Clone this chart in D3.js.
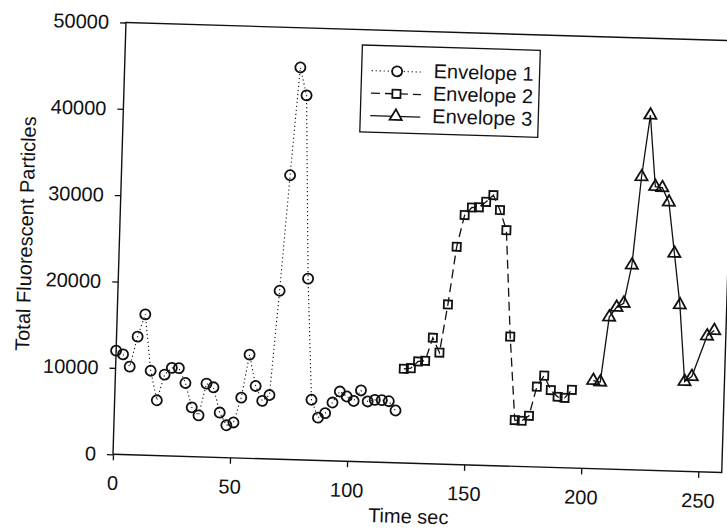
<!DOCTYPE html>
<html>
<head>
<meta charset="utf-8">
<script src="https://cdn.jsdelivr.net/npm/d3@7"></script>
<style>
  html, body { margin: 0; padding: 0; background: #fff; }
  svg { display: block; font-family: "Liberation Sans", Arial, Helvetica, sans-serif; }
</style>
</head>
<body>
<svg id="chart" width="727" height="528"></svg>
<script>
// Envelope 1: time (s) and total fluorescent particle counts
const env1Time = [0, 3, 6, 9, 12, 15, 18, 21, 24, 27, 30, 33, 36, 39, 42, 45, 48, 51, 54, 57,
                  60, 63, 66, 69, 72, 75, 78, 81, 84, 87, 90, 93, 96, 99, 102, 105, 108, 111, 114, 117, 120];
const env1Count = [12000, 11600, 10200, 13700, 16300, 9800, 6400, 9400, 10200, 10200, 8500, 5700, 4800, 8500,
                   8100, 5200, 3750, 4100, 7000, 12000, 8400, 6700, 7400, 19500, 32900, 45400, 42200, 21000,
                   7000, 4950, 5500, 6750, 8050, 7500, 7000, 8250, 7000, 7200, 7200, 7100, 6050];

// Envelope 2
const env2Time = [123, 126, 129, 132, 135, 138, 141, 144, 147, 150, 153, 156, 159, 162, 165, 168,
                  171, 174, 177, 180, 183, 186, 189, 192, 195];
const env2Count = [10900, 11000, 11800, 11900, 14600, 12900, 18500, 25200, 28900, 29800, 29850, 30500,
                   31300, 29600, 27300, 15000, 5350, 5300, 5900, 9300, 10600, 8950, 8200, 8100, 9050];

// Envelope 3
const env3Time = [204, 207, 210, 213, 216, 219, 222, 225, 228, 231, 234, 237, 240, 243, 246, 252, 255];
const env3Count = [10200, 10050, 17600, 18750, 19250, 23700, 33950, 41100, 32850, 32750, 31100, 25200,
                   19250, 10400, 11000, 15750, 16400];

const seriesNames = ["Envelope 1", "Envelope 2", "Envelope 3"];
const xTicks = [0, 50, 100, 150, 200, 250];
const yTicks = [0, 10000, 20000, 30000, 40000, 50000];
const xTitle = "Time sec";
const yTitle = "Total Fluorescent Particles";

const W = 609, H = 432;
const FONT = 20;

const svg = d3.select("#chart");
svg.append("rect").attr("width", 727).attr("height", 528).attr("fill", "#fff");

// whole plot sits slightly tilted on the page
const g = svg.append("g")
  .attr("transform", "rotate(1.72,113,454.3) translate(113,22.3)");

const x = d3.scaleLinear().domain([0, 260]).range([0, W]);
const y = d3.scaleLinear().domain([0, 50000]).range([H, 0]);

// frame
g.append("rect")
  .attr("width", W).attr("height", H)
  .attr("fill", "none").attr("stroke", "#111").attr("stroke-width", 1.4);

// axes
const xAxis = g.append("g")
  .attr("transform", `translate(0,${H})`)
  .call(d3.axisBottom(x).tickValues(xTicks).tickSize(6).tickPadding(15.5).tickFormat(d3.format("d")));
const yAxis = g.append("g")
  .call(d3.axisLeft(y).tickValues(yTicks).tickSize(6).tickPadding(11).tickFormat(d3.format("d")));
[xAxis, yAxis].forEach(a => {
  a.select(".domain").remove();
  a.attr("font-size", FONT).attr("font-family", null);
  a.selectAll("line").attr("stroke", "#111").attr("stroke-width", 1.3);
  a.selectAll("text").attr("fill", "#111");
});

// axis titles
g.append("text")
  .attr("x", 297).attr("y", H + 60)
  .attr("text-anchor", "middle").attr("font-size", FONT).attr("fill", "#111")
  .text(xTitle);
g.append("text")
  .attr("transform", `translate(-87,${214}) rotate(-90)`)
  .attr("text-anchor", "middle").attr("font-size", FONT).attr("fill", "#111")
  .text(yTitle);

// series
const series = [
  { name: seriesNames[0], t: env1Time, c: env1Count, dash: "1.2,2.8", sw: 1.1, sym: d3.symbolCircle, size: 80 },
  { name: seriesNames[1], t: env2Time, c: env2Count, dash: "9,5", sw: 1.3, sym: d3.symbolSquare, size: 66 },
  { name: seriesNames[2], t: env3Time, c: env3Count, dash: null, sw: 1.3, sym: d3.symbolTriangle, size: 64 }
];

const line = d3.line().x(d => x(d[0])).y(d => y(d[1]));

series.forEach(s => {
  const pts = s.t.map((t, i) => [t, s.c[i]]);
  g.append("path")
    .datum(pts)
    .attr("d", line)
    .attr("fill", "none")
    .attr("stroke", "#111")
    .attr("stroke-width", s.sw)
    .attr("stroke-dasharray", s.dash);
  g.append("g").selectAll("path")
    .data(pts)
    .join("path")
    .attr("transform", d => `translate(${x(d[0])},${y(d[1])})`)
    .attr("d", d3.symbol().type(s.sym).size(s.size))
    .attr("fill", "none")
    .attr("stroke", "#111")
    .attr("stroke-width", 1.8);
});

// legend
const legend = g.append("g");
legend.append("rect")
  .attr("x", 237).attr("y", 15.4).attr("width", 178).attr("height", 87)
  .attr("fill", "#fff").attr("stroke", "#111").attr("stroke-width", 1.3);
series.forEach((s, i) => {
  const ry = 40.7 + i * 22.5;
  legend.append("line")
    .attr("x1", 247).attr("x2", 297).attr("y1", ry).attr("y2", ry)
    .attr("stroke", "#111").attr("stroke-width", s.sw)
    .attr("stroke-dasharray", s.dash);
  legend.append("path")
    .attr("transform", `translate(272.5,${ry})`)
    .attr("d", d3.symbol().type(s.sym).size(s.size))
    .attr("fill", "#fff").attr("stroke", "#111").attr("stroke-width", 1.8);
  legend.append("text")
    .attr("x", 309).attr("y", ry + 5.5)
    .attr("font-size", FONT).attr("fill", "#111")
    .text(s.name);
});
</script>
</body>
</html>
